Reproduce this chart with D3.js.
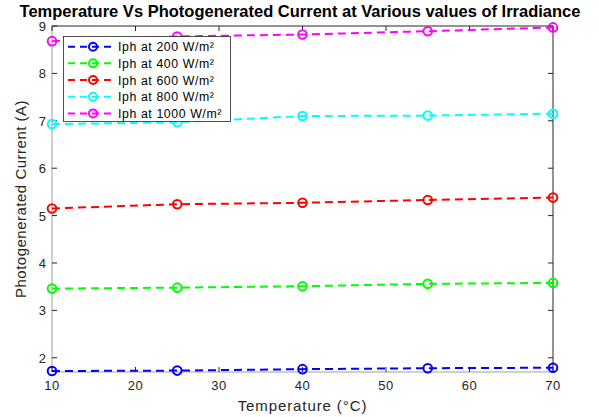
<!DOCTYPE html>
<html><head><meta charset="utf-8">
<script src="https://cdn.jsdelivr.net/npm/d3@7"></script>
<style>body{margin:0;background:#fff}svg{display:block}text{font-family:"Liberation Sans",Arial,sans-serif}</style>
</head><body>
<script>
const temperatures = [10, 25, 40, 55, 70];
const iph200 = [1.72, 1.73, 1.76, 1.78, 1.79];
const iph400 = [3.46, 3.48, 3.51, 3.56, 3.58];
const iph600 = [5.15, 5.24, 5.27, 5.33, 5.38];
const iph800 = [6.93, 6.97, 7.10, 7.11, 7.15];
const iph1000 = [8.68, 8.78, 8.82, 8.89, 8.97];
const seriesNames = ["Iph at 200 W/m²", "Iph at 400 W/m²", "Iph at 600 W/m²", "Iph at 800 W/m²", "Iph at 1000 W/m²"];
const seriesColors = ["#0000ff", "#00ff00", "#ff0000", "#00ffff", "#ff00ff"];
const xTicks = [10, 20, 30, 40, 50, 60, 70];
const yTicks = [2, 3, 4, 5, 6, 7, 8, 9];
const series = [iph200, iph400, iph600, iph800, iph1000];

const W = 599, H = 417;
const m = {left: 52, right: 46, top: 26, bottom: 45};
const svg = d3.select("body").append("svg").attr("width", W).attr("height", H);
const x = d3.scaleLinear().domain([10, 70]).range([m.left, W - m.right]);
const y = d3.scaleLinear().domain([1.7, 9]).range([H - m.bottom, m.top]);

// box
svg.append("line").attr("x1", x(10)).attr("x2", x(70)).attr("y1", y(9)).attr("y2", y(9)).attr("stroke", "#262626");
svg.append("line").attr("x1", x(70)).attr("x2", x(70)).attr("y1", y(9)).attr("y2", y(1.7)).attr("stroke", "#262626");
svg.append("line").attr("x1", x(10)).attr("x2", x(70)).attr("y1", y(1.7)).attr("y2", y(1.7)).attr("stroke", "#a0a0a0");
svg.append("line").attr("x1", x(10)).attr("x2", x(10)).attr("y1", y(9)).attr("y2", y(1.7)).attr("stroke", "#a0a0a0");

// ticks (inward) and labels
const xb = y(1.7), yl = x(10);
xTicks.forEach(t => {
  svg.append("line").attr("x1", x(t)).attr("x2", x(t)).attr("y1", xb).attr("y2", xb - 5).attr("stroke", "#262626");
  svg.append("line").attr("x1", x(t)).attr("x2", x(t)).attr("y1", y(9)).attr("y2", y(9) + 5).attr("stroke", "#262626");
  svg.append("text").attr("x", x(t)).attr("y", xb + 18).attr("text-anchor", "middle").attr("font-size", 13).attr("letter-spacing", 0.5).attr("fill", "#262626").text(t);
});
yTicks.forEach(t => {
  svg.append("line").attr("x1", yl).attr("x2", yl + 5).attr("y1", y(t)).attr("y2", y(t)).attr("stroke", "#262626");
  svg.append("line").attr("x1", x(70)).attr("x2", x(70) - 5).attr("y1", y(t)).attr("y2", y(t)).attr("stroke", "#262626");
  svg.append("text").attr("x", yl - 6).attr("y", y(t) + 5).attr("text-anchor", "end").attr("font-size", 13).attr("fill", "#262626").text(t);
});

// series
const line = d3.line().x((d, i) => x(temperatures[i])).y(d => y(d));
series.forEach((s, k) => {
  svg.append("path").datum(s).attr("d", line).attr("fill", "none").attr("stroke", seriesColors[k]).attr("stroke-width", 2).attr("stroke-dasharray", "8,5");
  svg.selectAll(null).data(s).enter().append("circle").attr("cx", (d, i) => x(temperatures[i])).attr("cy", d => y(d)).attr("r", 4.3).attr("fill", "none").attr("stroke", seriesColors[k]).attr("stroke-width", 2);
});

// legend
const lg = svg.append("g");
lg.append("rect").attr("x", 63.5).attr("y", 36.5).attr("width", 167).attr("height", 85).attr("fill", "#fff").attr("stroke", "#262626").attr("stroke-width", 0.8);
seriesNames.forEach((n, k) => {
  const ly = 46.7 + k * 16.67;
  lg.append("line").attr("x1", 68).attr("x2", 113).attr("y1", ly).attr("y2", ly).attr("stroke", seriesColors[k]).attr("stroke-width", 2).attr("stroke-dasharray", "7,5");
  lg.append("circle").attr("cx", 93).attr("cy", ly).attr("r", 4).attr("fill", "none").attr("stroke", seriesColors[k]).attr("stroke-width", 2);
  lg.append("text").attr("x", 118).attr("y", ly + 4.5).attr("font-size", 12.3).attr("letter-spacing", 0.6).attr("fill", "#000").text(n);
});

// title and labels
svg.append("text").attr("x", 300).attr("y", 16.5).attr("text-anchor", "middle").attr("font-size", 16.5).attr("font-weight", "bold").attr("fill", "#000").text("Temperature Vs Photogenerated Current at Various values of Irradiance");
svg.append("text").attr("x", (x(10) + x(70)) / 2).attr("y", 411).attr("text-anchor", "middle").attr("font-size", 15).attr("letter-spacing", 0.9).attr("fill", "#262626").text("Temperature (°C)");
svg.append("text").attr("transform", `translate(26,${(y(9) + y(1.7)) / 2}) rotate(-90)`).attr("text-anchor", "middle").attr("font-size", 15).attr("letter-spacing", 0.5).attr("fill", "#262626").text("Photogenerated Current (A)");
</script>
</body></html>
